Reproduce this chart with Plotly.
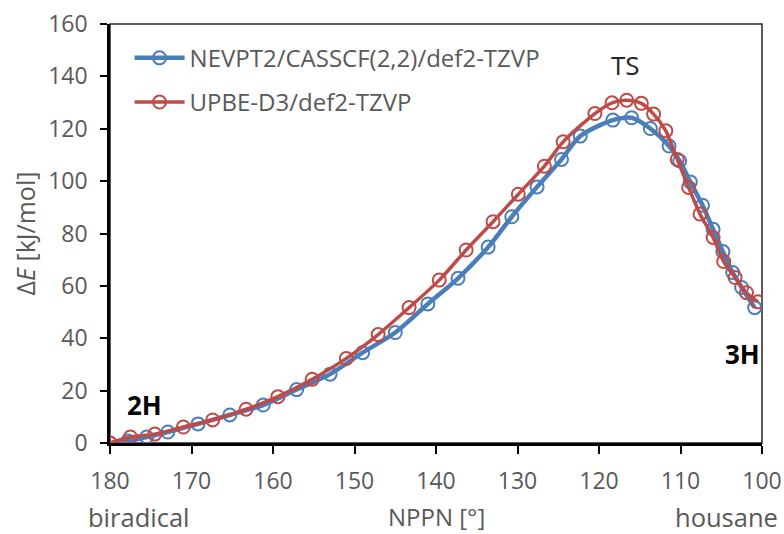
import plotly.graph_objects as go

# NEVPT2/CASSCF(2,2)/def2-TZVP
nev_x = [180.0, 177.8, 175.5, 172.9, 169.2, 165.3, 161.2, 157.1, 153.0, 149.0, 145.0, 141.0,
         137.3, 133.6, 130.7, 127.6, 124.6, 122.3, 118.3, 116.0, 113.7, 111.4, 110.1, 108.8,
         107.3, 106.0, 104.8, 103.6, 102.5, 100.9]
nev_y = [0.0, 0.8, 2.3, 4.2, 7.3, 10.7, 14.5, 20.4, 26.3, 34.5, 42.2, 53.1,
         62.9, 74.8, 86.4, 97.8, 108.3, 117.2, 123.3, 124.2, 120.1, 113.4, 107.7, 99.7,
         90.8, 81.6, 73.1, 65.1, 59.4, 51.7]

# UPBE-D3/def2-TZVP
pbe_x = [180.0, 177.5, 174.5, 171.0, 167.4, 163.3, 159.4, 155.2, 151.0, 147.1, 143.3, 139.6,
         136.3, 133.0, 129.9, 126.7, 124.4, 120.5, 118.4, 116.6, 114.8, 113.3, 111.8, 110.4,
         109.0, 107.6, 106.0, 104.7, 103.3, 101.9, 100.5]
pbe_y = [0.0, 2.3, 3.4, 6.1, 8.8, 12.9, 17.7, 24.3, 32.3, 41.4, 51.7, 62.2,
         73.7, 84.5, 95.0, 105.7, 115.0, 125.8, 129.9, 130.9, 129.7, 125.6, 119.2, 108.3,
         97.6, 87.4, 78.5, 69.3, 63.2, 57.4, 53.9]

x_ticks = [180, 170, 160, 150, 140, 130, 120, 110, 100]
y_ticks = [0, 20, 40, 60, 80, 100, 120, 140, 160]

BLUE = "#4a7ebb"
RED = "#be4b48"
GRAY = "#595959"
FONT = "Open Sans"

fig = go.Figure()
fig.add_trace(go.Scatter(
    x=nev_x, y=nev_y, mode="lines+markers", name="NEVPT2/CASSCF(2,2)/def2-TZVP",
    line=dict(color=BLUE, width=4.5, shape="spline", smoothing=0.8),
    marker=dict(symbol="circle-open", size=13, color=BLUE, line=dict(width=2)),
    legendgroup="a",
))
fig.add_trace(go.Scatter(
    x=pbe_x, y=pbe_y, mode="lines+markers", name="UPBE-D3/def2-TZVP",
    line=dict(color=RED, width=3.5, shape="spline", smoothing=0.8),
    marker=dict(symbol="circle-open", size=13, color=RED, line=dict(width=2)),
    legendgroup="b",
))

fig.update_layout(
    width=784, height=534,
    margin=dict(l=110, r=22, t=24, b=91, autoexpand=False),
    paper_bgcolor="white", plot_bgcolor="white",
    font=dict(family=FONT, size=22, color=GRAY),
    showlegend=True,
    legend=dict(x=0.03, y=0.972, xanchor="left", yanchor="top",
                bgcolor="rgba(0,0,0,0)", font=dict(size=24, color=GRAY),
                tracegroupgap=10, itemwidth=50),
    shapes=[dict(type="rect", xref="paper", yref="paper", x0=0, y0=0, x1=1, y1=1,
                 line=dict(color="#262626", width=1.5), layer="below")],
    annotations=[
        dict(text="TS", x=116.8, y=144.3, xref="x", yref="y", showarrow=False,
             xanchor="center", yanchor="middle",
             font=dict(size=26, color="#262626")),
        dict(text="<b>2H</b>", x=175.8, y=14.5, xref="x", yref="y", showarrow=False,
             xanchor="center", yanchor="middle",
             font=dict(size=26, color="black")),
        dict(text="<b>3H</b>", x=102.4, y=34.0, xref="x", yref="y", showarrow=False,
             xanchor="center", yanchor="middle",
             font=dict(size=26, color="black")),
        dict(text="biradical", x=0.045, y=-0.176, xref="paper", yref="paper",
             xanchor="center", yanchor="middle",
             showarrow=False, font=dict(size=25.5, color=GRAY)),
        dict(text="housane", x=0.9455, y=-0.176, xref="paper", yref="paper",
             xanchor="center", yanchor="middle",
             showarrow=False, font=dict(size=25.5, color=GRAY)),
        dict(text="NPPN [°]", x=0.5, y=-0.176, xref="paper", yref="paper",
             xanchor="center", yanchor="middle",
             showarrow=False, font=dict(size=24, color=GRAY)),
    ],
)

fig.update_xaxes(
    range=[180, 100], tickvals=x_ticks, ticktext=[str(v) for v in x_ticks],
    showgrid=False, zeroline=False, automargin=False,
    showline=True, linecolor="black", linewidth=2.5,
    ticks="outside", ticklen=8, tickwidth=2, tickcolor="black",
    ticklabelstandoff=8,
    tickfont=dict(size=23, color=GRAY),
)
fig.update_yaxes(
    range=[0, 160], tickvals=y_ticks, ticktext=[str(v) for v in y_ticks],
    showgrid=False, zeroline=False,
    showline=True, linecolor="black", linewidth=2.5,
    ticks="outside", ticklen=7, tickwidth=2, tickcolor="black",
    ticklabelstandoff=8,
    tickfont=dict(size=23, color=GRAY),
    title=dict(text="Δ<i>E</i> [kJ/mol]", font=dict(size=25, color=GRAY), standoff=6),
)

fig.write_html("out.html")
